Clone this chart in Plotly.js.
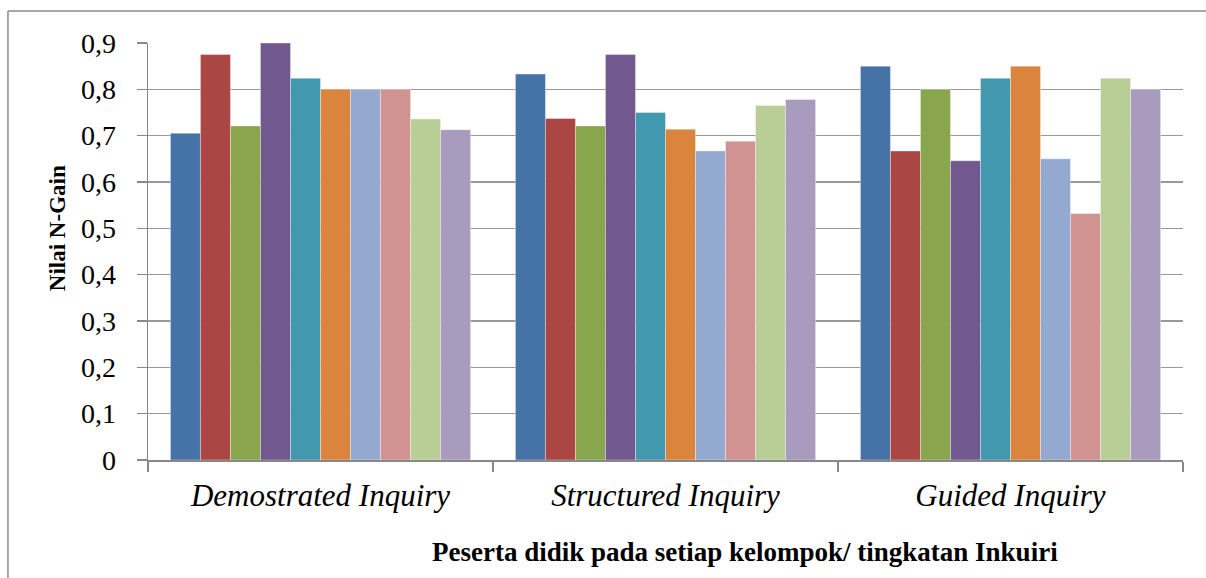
<!DOCTYPE html>
<html>
<head>
<meta charset="utf-8">
<script src="https://cdn.plot.ly/plotly-3.0.1.min.js"></script>
<style>
html,body{margin:0;padding:0;background:#fff;}
#chart{width:1206px;height:578px;}
</style>
</head>
<body>
<div id="chart"></div>
<script>
const categories = ["Demostrated Inquiry", "Structured Inquiry", "Guided Inquiry"];
const s1 = [0.705, 0.833, 0.850];
const s2 = [0.875, 0.737, 0.667];
const s3 = [0.721, 0.721, 0.800];
const s4 = [0.900, 0.875, 0.646];
const s5 = [0.824, 0.750, 0.824];
const s6 = [0.800, 0.714, 0.850];
const s7 = [0.800, 0.667, 0.650];
const s8 = [0.800, 0.688, 0.532];
const s9 = [0.736, 0.765, 0.824];
const s10 = [0.713, 0.778, 0.800];
const seriesValues = [s1, s2, s3, s4, s5, s6, s7, s8, s9, s10];
const colors = ["#4572A7", "#AA4643", "#89A54E", "#71588F", "#4198AF",
                "#DB843D", "#93A9CF", "#D19392", "#B9CD96", "#A99BBD"];
const yTicks = [0, 0.1, 0.2, 0.3, 0.4, 0.5, 0.6, 0.7, 0.8, 0.9];
const yTitle = "Nilai N-Gain";
const xTitle = "Peserta didik pada setiap kelompok/ tingkatan Inkuiri";

const font = "Liberation Serif";
const traces = seriesValues.map((vals, i) => ({
  type: "bar",
  x: categories,
  y: vals,
  name: "S" + (i + 1),
  marker: {color: colors[i], line: {width: 0.6, color: "rgba(255,255,255,0.6)"}},
  hoverinfo: "y"
}));

const layout = {
  width: 1206, height: 578,
  margin: {l: 148, r: 23, t: 43, b: 118},
  paper_bgcolor: "#fff", plot_bgcolor: "#fff",
  separators: ",.",
  showlegend: false,
  barmode: "group",
  bargap: 0.13,
  bargroupgap: 0,
  font: {family: font, color: "#000"},
  xaxis: {
    type: "category",
    showline: true, linecolor: "#888", linewidth: 1.5,
    ticks: "outside", tickson: "boundaries", ticklen: 10, tickwidth: 1.5, tickcolor: "#888",
    showgrid: false,
    tickfont: {family: font, size: 31, style: "italic", color: "#000"},
    ticklabelstandoff: 7
  },
  yaxis: {
    range: [0, 0.9],
    tickvals: yTicks,
    showline: true, linecolor: "#888", linewidth: 1.5,
    ticks: "outside", ticklen: 10, tickwidth: 1.5, tickcolor: "#888",
    showgrid: true, gridcolor: "#999", gridwidth: 1.5,
    zeroline: false,
    tickfont: {family: font, size: 28, color: "#000"},
    ticklabelstandoff: 15
  },
  annotations: [
    {text: "<b>" + yTitle + "</b>", xref: "paper", yref: "paper",
     x: -0.0879, y: 0.556, xanchor: "center", yanchor: "middle",
     textangle: -90, showarrow: false, font: {family: font, size: 23, color: "#000"}},
    {text: "<b>" + xTitle + "</b>", xref: "paper", yref: "paper",
     x: 0.577, y: -0.2206, xanchor: "center", yanchor: "middle",
     showarrow: false, font: {family: font, size: 27, color: "#000"}}
  ],
  shapes: [
    {type: "line", xref: "paper", yref: "paper",
     x0: -0.1353, x1: 1.05, y0: 1.0767, y1: 1.0767,
     line: {color: "#8c8c8c", width: 1.5}},
    {type: "line", xref: "paper", yref: "paper",
     x0: -0.1353, x1: -0.1353, y0: 1.0767, y1: -0.35,
     line: {color: "#8c8c8c", width: 1.5}}
  ]
};

Plotly.newPlot("chart", traces, layout, {staticPlot: true, displayModeBar: false});
</script>
</body>
</html>
